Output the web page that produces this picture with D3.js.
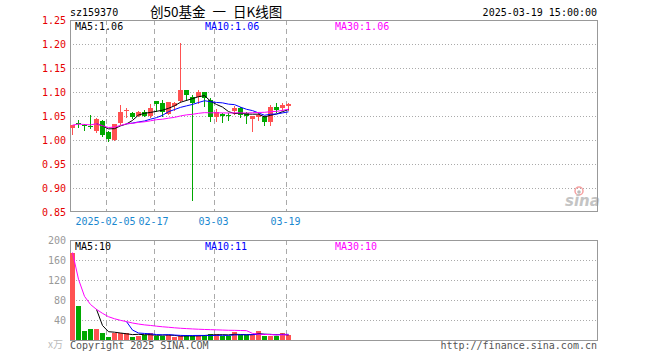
<!DOCTYPE html>
<html>
<head>
<meta charset="utf-8">
<script src="https://cdn.jsdelivr.net/npm/d3@7/dist/d3.min.js"></script>
<style>
  html, body { margin: 0; padding: 0; background: #fff; }
  svg { display: block; }
</style>
</head>
<body>
<svg id="chart" width="660" height="360"></svg>
<script>
// ---------------- data ----------------
const dates = ["2025-01-20","2025-01-21","2025-01-22","2025-01-23","2025-01-24","2025-01-27",
  "2025-02-05","2025-02-06","2025-02-07","2025-02-10","2025-02-11","2025-02-12","2025-02-13","2025-02-14",
  "2025-02-17","2025-02-18","2025-02-19","2025-02-20","2025-02-21","2025-02-24","2025-02-25","2025-02-26","2025-02-27","2025-02-28",
  "2025-03-03","2025-03-04","2025-03-05","2025-03-06","2025-03-07","2025-03-10","2025-03-11","2025-03-12","2025-03-13","2025-03-14",
  "2025-03-17","2025-03-18","2025-03-19"];
const openP  = [1.025,1.036,1.032,1.030,1.018,1.040,1.017,1.001,1.035,1.061,1.057,1.050,1.058,1.050,
  1.081,1.077,1.055,1.070,1.081,1.104,1.090,1.090,1.099,1.083,1.047,1.054,1.053,1.061,1.067,1.056,
  1.044,1.047,1.047,1.038,1.068,1.067,1.070];
const highP  = [1.032,1.041,1.033,1.052,1.045,1.041,1.018,1.034,1.073,1.066,1.058,1.060,1.062,1.076,
  1.082,1.083,1.080,1.080,1.203,1.105,1.094,1.104,1.100,1.087,1.064,1.057,1.057,1.071,1.069,1.059,
  1.050,1.056,1.050,1.073,1.078,1.078,1.078];
const lowP   = [1.012,1.027,1.021,1.024,1.017,1.008,0.998,1.000,1.034,1.047,1.046,1.049,1.050,1.048,
  1.060,1.049,1.054,1.063,1.080,1.083,0.874,1.078,1.071,1.040,1.040,1.038,1.042,1.054,1.047,1.036,
  1.019,1.042,1.031,1.031,1.059,1.062,1.062];
const closeP = [1.031,1.035,1.031,1.029,1.043,1.010,1.003,1.033,1.058,1.063,1.047,1.059,1.051,1.067,
  1.075,1.058,1.079,1.077,1.104,1.094,1.077,1.099,1.088,1.047,1.059,1.050,1.052,1.067,1.052,1.049,
  1.049,1.052,1.038,1.069,1.063,1.073,1.075];
const volume = [175,68,19,22,22,14,6,14,14,14,6,9,10,14,8,8,10,6,7,10,8,10,10,12,12,9,8,16,10,10,
  10,18,9,9,7,14,10];

const priceTicks = [1.25,1.20,1.15,1.10,1.05,1.00,0.95,0.90,0.85];
const volTicks = [200,160,120,80,40];
const dateTicks = ["2025-02-05","2025-02-17","2025-03-03","2025-03-19"];
const dateTickLabels = ["2025-02-05","02-17","03-03","03-19"];

const symbol = "sz159370";
const title = "创50基金 一 日K线图";
const stamp = "2025-03-19 15:00:00";

// ---------------- helpers ----------------
function movingAvg(arr, n, expanding) {
  return arr.map((v, i) => {
    if (i < n - 1) {
      if (!expanding) return null;
      return d3.mean(arr.slice(0, i + 1));
    }
    return d3.mean(arr.slice(i - n + 1, i + 1));
  });
}
const ma5 = movingAvg(closeP, 5, false), ma10 = movingAvg(closeP, 10, false), ma30 = movingAvg(closeP, 30, true);
const vma5 = movingAvg(volume, 5, false), vma10 = movingAvg(volume, 10, false), vma30 = movingAvg(volume, 30, true);

// ---------------- layout ----------------
const L = 70, R = 597;
const pTop = 20, pBot = 212;
const vTop = 240, vBot = 340;
const RED = "#ff5252", GREEN = "#00a800";
const MONO = "'DejaVu Sans Mono', 'Liberation Mono', monospace";

const svg = d3.select("#chart");
svg.append("rect").attr("width", 660).attr("height", 360).attr("fill", "#fff");

const x = d3.scalePoint().domain(dates).range([72.5, 288.5]);
const y = d3.scaleLinear().domain([0.85, 1.25]).range([pBot, pTop]);
const yv = d3.scaleLinear().domain([0, 200]).range([vBot, vTop]);

// ---------------- header ----------------
svg.append("text").attr("x", 70).attr("y", 16).attr("font-family", MONO).attr("font-size", 10)
  .attr("fill", "#000").text(symbol);
svg.append("text").attr("x", 150).attr("y", 17).attr("font-family", "'Noto Sans CJK SC', sans-serif")
  .attr("font-size", 13.5).attr("word-spacing", 4).attr("fill", "#000").text(title);
svg.append("text").attr("x", R).attr("y", 16).attr("text-anchor", "end").attr("font-family", MONO)
  .attr("font-size", 10).attr("fill", "#000").text(stamp);

// ---------------- grids ----------------
const grid = svg.append("g");
priceTicks.filter(t => t < 1.249 && t > 0.851).forEach(t => {
  const yy = Math.round(y(t)) + 0.5;
  grid.append("line").attr("x1", L).attr("x2", R + 1).attr("y1", yy).attr("y2", yy)
    .attr("stroke", "#aaa").attr("stroke-dasharray", "1,2");
});
volTicks.filter(t => t < 200).forEach(t => {
  const yy = Math.round(yv(t)) + 0.5;
  grid.append("line").attr("x1", L).attr("x2", R + 1).attr("y1", yy).attr("y2", yy)
    .attr("stroke", "#aaa").attr("stroke-dasharray", "1,2");
});
dateTicks.forEach(d => {
  const xx = x(d) - 2;
  grid.append("line").attr("x1", xx).attr("x2", xx).attr("y1", pTop).attr("y2", pBot)
    .attr("stroke", "#aaa").attr("stroke-dasharray", "5,4");
  grid.append("line").attr("x1", xx).attr("x2", xx).attr("y1", vTop).attr("y2", vBot)
    .attr("stroke", "#aaa").attr("stroke-dasharray", "5,4");
});

// ---------------- watermark ----------------
const wm = svg.append("g");
wm.append("circle").attr("cx", 579).attr("cy", 191).attr("r", 4).attr("fill", "none")
  .attr("stroke", "#f6a0a0").attr("stroke-width", 1.5);
wm.append("circle").attr("cx", 579).attr("cy", 192).attr("r", 1.8).attr("fill", "#bbb");
wm.append("text").attr("x", 565).attr("y", 206).attr("font-family", "'DejaVu Sans', sans-serif")
  .attr("font-size", 15).attr("font-weight", "bold").attr("font-style", "italic")
  .attr("fill", "#c4c4c4").text("sina");

// ---------------- frames ----------------
svg.append("rect").attr("x", L + 0.5).attr("y", pTop + 0.5).attr("width", R - L).attr("height", pBot - pTop - 1)
  .attr("fill", "none").attr("stroke", "#999");
svg.append("rect").attr("x", L + 0.5).attr("y", vTop + 0.5).attr("width", R - L).attr("height", vBot - vTop)
  .attr("fill", "none").attr("stroke", "#999");

// ---------------- axis labels ----------------
priceTicks.forEach(t => {
  svg.append("text").attr("x", 66).attr("y", y(t) + 3.5).attr("text-anchor", "end")
    .attr("font-family", MONO).attr("font-size", 10).attr("fill", "#e60000").text(t.toFixed(2));
});
volTicks.forEach(t => {
  svg.append("text").attr("x", 66).attr("y", yv(t) + 3.5).attr("text-anchor", "end")
    .attr("font-family", MONO).attr("font-size", 10).attr("fill", "#999").text(t);
});
svg.append("text").attr("x", 48).attr("y", 348).attr("font-family", "'Noto Sans CJK SC', sans-serif")
  .attr("font-size", 10).attr("fill", "#bbb").text("x万");
dateTicks.forEach((d, i) => {
  svg.append("text").attr("x", x(d) - 3).attr("y", 225).attr("text-anchor", "middle")
    .attr("font-family", MONO).attr("font-size", 10).attr("fill", "#1a88d0").text(dateTickLabels[i]);
});

// ---------------- candles ----------------
const idx = d3.range(dates.length);
const candles = svg.append("g");
idx.forEach(i => {
  const up = closeP[i] >= openP[i];
  const col = up ? RED : GREEN;
  const cx = x(dates[i]);
  candles.append("line").attr("x1", cx).attr("x2", cx)
    .attr("y1", Math.round(y(highP[i]))).attr("y2", Math.round(y(lowP[i])) + 1)
    .attr("stroke", col).attr("stroke-width", 1);
  const top = Math.round(y(Math.max(openP[i], closeP[i])));
  const bot = Math.round(y(Math.min(openP[i], closeP[i])));
  candles.append("rect").attr("x", cx - 2.5).attr("y", top).attr("width", 5)
    .attr("height", Math.max(1, bot - top)).attr("fill", col);
});

// ---------------- volume bars ----------------
const vbars = svg.append("g");
idx.forEach(i => {
  const up = closeP[i] >= openP[i];
  const top = Math.round(yv(volume[i]));
  vbars.append("rect").attr("x", x(dates[i]) - 2.5).attr("y", top).attr("width", 5)
    .attr("height", vBot - top).attr("fill", up ? RED : GREEN);
});

// ---------------- MA lines ----------------
function drawLine(vals, scale, color) {
  const line = d3.line().defined(i => vals[i] != null)
    .x(i => x(dates[i])).y(i => scale(vals[i]));
  svg.append("path").attr("d", line(idx)).attr("fill", "none").attr("stroke", color)
    .attr("stroke-width", 1);
}
drawLine(ma5, y, "#000");
drawLine(ma10, y, "#0000ff");
drawLine(ma30, y, "#ff00ff");
drawLine(vma5, yv, "#000");
drawLine(vma10, yv, "#0000ff");
drawLine(vma30, yv, "#ff00ff");

// ---------------- MA legends ----------------
const last = dates.length - 1;
const legends = [
  {label: "MA5:", v: ma5[last].toFixed(2), vv: Math.round(vma5[last]), color: "#000", x: 75},
  {label: "MA10:", v: ma10[last].toFixed(2), vv: Math.round(vma10[last]), color: "#0000ff", x: 205},
  {label: "MA30:", v: ma30[last].toFixed(2), vv: Math.round(vma30[last]), color: "#ff00ff", x: 335}
];
legends.forEach(l => {
  svg.append("text").attr("x", l.x).attr("y", 30).attr("font-family", MONO).attr("font-size", 10)
    .attr("fill", l.color).text(l.label + l.v);
  svg.append("text").attr("x", l.x).attr("y", 250).attr("font-family", MONO).attr("font-size", 10)
    .attr("fill", l.color).text(l.label + l.vv);
});

// ---------------- footer ----------------
svg.append("text").attr("x", 70).attr("y", 349).attr("font-family", MONO).attr("font-size", 10)
  .attr("fill", "#555").text("Copyright 2025 SINA.COM");
svg.append("text").attr("x", R).attr("y", 349).attr("text-anchor", "end").attr("font-family", MONO)
  .attr("font-size", 10).attr("fill", "#555").text("http://finance.sina.com.cn");
</script>
</body>
</html>
